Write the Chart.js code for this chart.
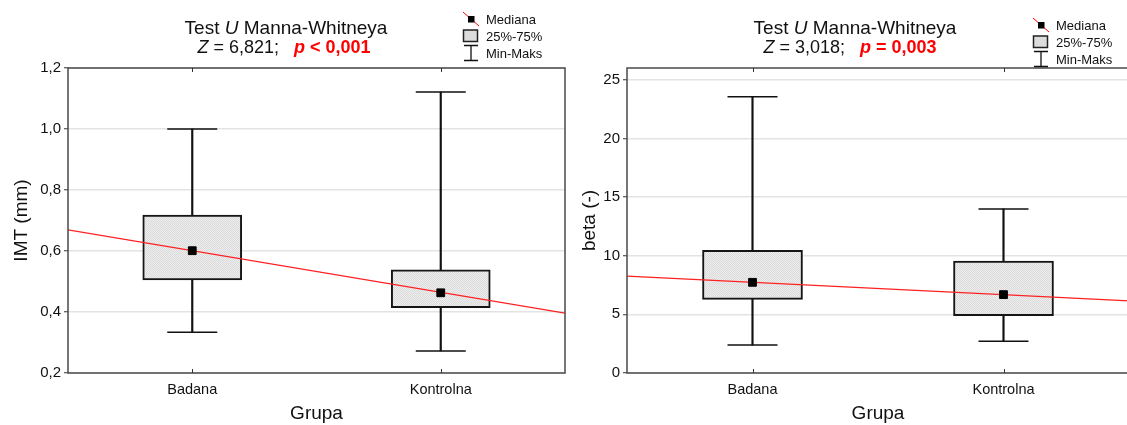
<!DOCTYPE html>
<html>
<head>
<meta charset="utf-8">
<script src="https://cdn.jsdelivr.net/npm/chart.js@4.4.1/dist/chart.umd.min.js"></script>
<style>
  html, body { margin: 0; padding: 0; width: 1127px; height: 425px; overflow: hidden; background: #fff;
    font-family: 'Liberation Sans', Arial, sans-serif; color: #111; }
  .wrap { position: absolute; top: 0; height: 425px; }
  .wrap canvas { position: absolute; left: 0; top: 0; }
  .t { position: absolute; white-space: nowrap; transform: translate(-50%, -50%); font-size: 19px; line-height: 1; }
  .t2 { font-size: 18px; }
  .red { color: #f00; font-weight: bold; }
  .lgi { position: absolute; transform: translateY(-50%); line-height: 0; }
  .lgt { position: absolute; transform: translateY(-50%); font-size: 13px; white-space: nowrap; line-height: 1; }
</style>
</head>
<body>
<div class="wrap" style="left:0;width:570px;"><canvas id="cLeft" width="570" height="425"></canvas></div>
<div class="wrap" style="left:570px;width:562px;"><canvas id="cRight" width="562" height="425"></canvas></div>

<div class="t" style="left:286px;top:27px;">Test <i>U</i> Manna-Whitneya</div>
<div class="t t2" style="left:284px;top:47px;"><i>Z</i> = 6,821;&nbsp;&nbsp; <span class="red"><i>p</i> &lt; 0,001</span></div>
<div class="t" style="left:855px;top:27px;">Test <i>U</i> Manna-Whitneya</div>
<div class="t t2" style="left:850px;top:47px;"><i>Z</i> = 3,018;&nbsp;&nbsp; <span class="red"><i>p</i> = 0,003</span></div>
<div id="legends"></div>

<script>
// ---------- data ----------
const categories = ['Badana', 'Kontrolna'];
const legendLabels = ['Mediana', '25%-75%', 'Min-Maks'];

// IMT (mm)
const imtMin    = [0.334, 0.272];
const imtQ1     = [0.505, 0.414];
const imtMedian = [0.601, 0.463];
const imtQ3     = [0.718, 0.538];
const imtMax    = [1.000, 1.121];
const imtTrend  = [0.669, 0.396];   // fitted line at left / right plot edge
const imtTickValues = [0.2, 0.4, 0.6, 0.8, 1.0, 1.2];
const imtTickLabels = ['0,2', '0,4', '0,6', '0,8', '1,0', '1,2'];

// beta (-)
const betaMin    = [2.38, 2.70];
const betaQ1     = [6.28, 4.89];
const betaMedian = [7.73, 6.68];
const betaQ3     = [10.46, 9.55];
const betaMax    = [23.54, 13.99];
const betaTrend  = [8.25, 6.15];
const betaTickValues = [0, 5, 10, 15, 20, 25];
const betaTickLabels = ['0', '5', '10', '15', '20', '25'];

// ---------- helpers ----------
Chart.defaults.font.family = "'Liberation Sans', Arial, sans-serif";
Chart.defaults.color = '#111';

function stipple() {
  const c = document.createElement('canvas');
  c.width = 2; c.height = 2;
  const x = c.getContext('2d');
  x.fillStyle = '#eeeeee'; x.fillRect(0, 0, 2, 2);
  x.fillStyle = '#dadada'; x.fillRect(0, 0, 1, 1); x.fillRect(1, 1, 1, 1);
  return x.createPattern(c, 'repeat');
}

const framePlugin = {
  id: 'frame',
  afterDraw(chart) {
    const { ctx, chartArea: a, scales } = chart;
    ctx.save();
    ctx.strokeStyle = '#4a4a4a';
    ctx.lineWidth = 1.5;
    ctx.strokeRect(a.left, a.top, a.right - a.left, a.bottom - a.top);
    ctx.strokeStyle = '#333';
    ctx.lineWidth = 1;
    categories.forEach((c, i) => {
      const px = Math.round(scales.x.getPixelForValue(i)) + 0.5;
      ctx.beginPath();
      ctx.moveTo(px, a.bottom); ctx.lineTo(px, a.bottom - 4);
      ctx.moveTo(px, a.top); ctx.lineTo(px, a.top + 4);
      ctx.stroke();
    });
    ctx.restore();
  }
};

function build(id, o) {
  const pattern = stipple();
  const capStyle = { type: 'line', showLine: false, pointStyle: 'line', pointRadius: 25,
    pointBorderWidth: 1.5, pointBorderColor: '#111', pointBackgroundColor: '#111', order: 4 };
  return new Chart(document.getElementById(id), {
    type: 'bar',
    data: {
      labels: categories,
      datasets: [
        { type: 'bar', data: o.min.map((v, i) => [v, o.max[i]]), backgroundColor: '#111',
          barThickness: 1.5, grouped: false, order: 5 },
        Object.assign({ data: o.max }, capStyle),
        Object.assign({ data: o.min }, capStyle),
        { type: 'bar', data: o.q1.map((v, i) => [v, o.q3[i]]), backgroundColor: pattern,
          borderColor: '#151515', borderWidth: 2, borderSkipped: false,
          barThickness: o.boxW, grouped: false, order: 3 },
        { type: 'line', xAxisID: 'x2', data: [{ x: -0.5, y: o.trend[0] }, { x: 1.5, y: o.trend[1] }],
          borderColor: '#ff2020', borderWidth: 1.2, pointRadius: 0, fill: false, order: 2 },
        { type: 'line', data: o.med, showLine: false, pointStyle: 'rect', pointRadius: 5.5,
          pointBackgroundColor: '#000', pointBorderColor: '#000', pointBorderWidth: 1, order: 1 }
      ]
    },
    options: {
      responsive: false,
      animation: false,
      events: [],
      layout: { autoPadding: false, padding: { left: 0, right: o.padR, top: 68, bottom: 0 } },
      plugins: { legend: { display: false }, tooltip: { enabled: false }, title: { display: false } },
      scales: {
        x: {
          type: 'category', offset: true,
          grid: { display: false }, border: { display: false },
          ticks: { font: { size: 14.5 }, color: '#111', padding: 0 },
          title: { display: true, text: 'Grupa', font: { size: 19 }, color: '#111', padding: { top: 0, bottom: 0 } },
          afterFit(s) { s.height = 52; }
        },
        x2: { type: 'linear', display: false, offset: false, min: -0.5, max: 1.5 },
        y: {
          min: o.yMin, max: o.yMax,
          ticks: {
            stepSize: o.step, includeBounds: false, font: { size: 15 }, color: '#111', padding: 3,
            callback: (v) => {
              const k = o.tickValues.findIndex(t => Math.abs(t - v) < 1e-6);
              return k >= 0 ? o.tickLabels[k] : '';
            }
          },
          grid: { color: '#e3e3e3', lineWidth: 1.5, tickColor: '#333', tickLength: 4, tickWidth: 1 },
          border: { display: false },
          title: { display: true, text: o.yTitle, font: { size: 19 }, color: '#111', padding: { top: o.titlePad, bottom: 0 } },
          afterFit(s) { s.width = o.yW; }
        }
      }
    },
    plugins: [framePlugin]
  });
}

build('cLeft', {
  min: imtMin, q1: imtQ1, med: imtMedian, q3: imtQ3, max: imtMax, trend: imtTrend,
  yMin: 0.2, yMax: 1.2, step: 0.2, tickValues: imtTickValues, tickLabels: imtTickLabels,
  yTitle: 'IMT (mm)', yW: 68, padR: 5, boxW: 99, titlePad: 10
});
build('cRight', {
  min: betaMin, q1: betaQ1, med: betaMedian, q3: betaQ3, max: betaMax, trend: betaTrend,
  yMin: 0, yMax: 26, step: 5, tickValues: betaTickValues, tickLabels: betaTickLabels,
  yTitle: 'beta (-)', yW: 57, padR: 3, boxW: 100, titlePad: 8
});

// ---------- legends ----------
const icons = [
  '<svg width="18" height="16"><line x1="1" y1="1" x2="17" y2="15" stroke="#f00" stroke-width="1"/><rect x="6" y="5" width="6.5" height="6.5" fill="#000"/></svg>',
  '<svg width="18" height="14"><rect x="1.5" y="1" width="14" height="11.5" fill="#dcdcdc" stroke="#222" stroke-width="1.5"/></svg>',
  '<svg width="18" height="18"><path d="M2 1.5H16M9 1.5V16.5M2 16.5H16" stroke="#111" stroke-width="1.3" fill="none"/></svg>'
];
function legend(iconX, textX, ys) {
  const host = document.getElementById('legends');
  legendLabels.forEach((lab, i) => {
    const ic = document.createElement('div');
    ic.className = 'lgi'; ic.style.left = iconX + 'px'; ic.style.top = ys[i] + 'px';
    ic.innerHTML = icons[i];
    host.appendChild(ic);
    const tx = document.createElement('div');
    tx.className = 'lgt'; tx.style.left = textX + 'px'; tx.style.top = ys[i] + 'px';
    tx.textContent = lab;
    host.appendChild(tx);
  });
}
legend(462, 486, [19, 36, 53]);
legend(1032, 1056, [25, 42, 59]);
</script>
</body>
</html>
